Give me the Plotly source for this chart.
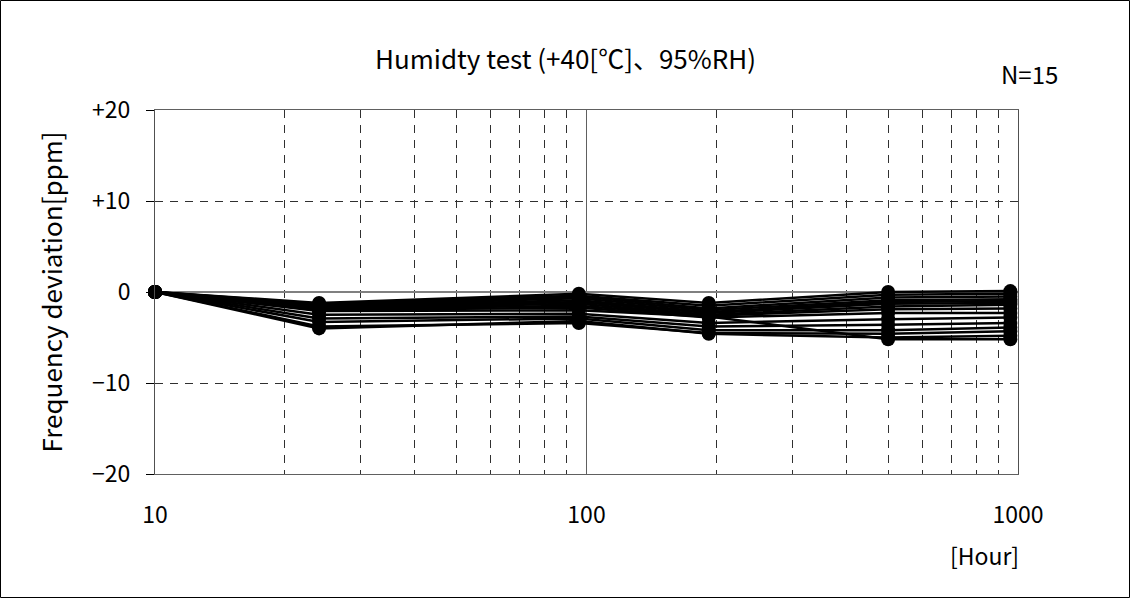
import plotly.graph_objects as go

hours = [10, 24, 96, 192, 500, 960]
series = [
    [0, -1.2, -0.2, -1.2, 0.0, 0.1],
    [0, -1.3, -0.4, -1.5, -0.3, -0.2],
    [0, -1.4, -0.5, -1.8, -0.6, -0.5],
    [0, -1.5, -0.7, -2.0, -0.9, -0.8],
    [0, -1.6, -0.9, -2.2, -1.1, -1.0],
    [0, -1.7, -1.1, -2.3, -1.3, -1.2],
    [0, -1.8, -1.3, -2.5, -1.6, -1.4],
    [0, -1.9, -1.5, -2.6, -1.9, -1.8],
    [0, -2.0, -1.7, -2.8, -2.3, -2.3],
    [0, -2.1, -2.0, -2.7, -5.2, -5.2],
    [0, -2.5, -2.4, -3.4, -3.0, -2.8],
    [0, -2.9, -2.7, -3.8, -3.6, -3.4],
    [0, -3.3, -2.9, -4.2, -4.2, -3.9],
    [0, -3.8, -3.4, -4.5, -4.6, -4.3],
    [0, -4.0, -3.2, -4.6, -5.0, -4.8],
]
y_ticks = [-20, -10, 0, 10, 20]
y_labels = ["\u221220", "\u221210", "0", "+10", "+20"]
x_ticks = [10, 100, 1000]
x_labels = ["10", "100", "1000"]

FONT = "Noto Sans CJK JP, Noto Sans, sans-serif"

fig = go.Figure()
for s in series:
    fig.add_trace(go.Scatter(
        x=hours, y=s, mode="lines+markers",
        line=dict(color="black", width=2.5),
        marker=dict(color="black", size=14),
        cliponaxis=False, showlegend=False, hoverinfo="skip",
    ))

W, H = 1130, 598
L, R, T, B = 155, 112, 110, 124
pw, ph = W - L - R, H - T - B

fig.update_layout(
    width=W, height=H,
    margin=dict(l=L, r=R, t=T, b=B, pad=0),
    paper_bgcolor="white", plot_bgcolor="white",
    font=dict(family=FONT, size=22, color="black"),
    showlegend=False,
    xaxis=dict(
        type="log", range=[1, 3],
        tickvals=x_ticks, ticktext=x_labels,
        ticks="", ticklabelstandoff=20,
        showgrid=True, gridcolor="#606060", gridwidth=1,
        minor=dict(dtick="D1", showgrid=True, gridcolor="#303030",
                   griddash="8px,7px", gridwidth=1, ticks=""),
        showline=True, linecolor="#606060", linewidth=1, mirror=True,
        zeroline=False, tickfont=dict(size=23),
    ),
    yaxis=dict(
        range=[-20, 20],
        tickvals=y_ticks, ticktext=y_labels,
        ticks="outside", ticklen=8, tickcolor="black",
        ticklabelstandoff=11,
        showgrid=True, gridcolor="#303030", griddash="8px,7px", gridwidth=1,
        zeroline=True, zerolinecolor="#808080", zerolinewidth=1.5,
        showline=True, linecolor="#505050", linewidth=1, mirror=True,
        title=dict(text="Frequency deviation[ppm]", standoff=22,
                   font=dict(size=26)),
        tickfont=dict(size=23),
    ),
    annotations=[
        dict(text="Humidty test (+40[\u2103]\u300195%RH)", xref="paper", yref="paper",
             x=(565 - L) / pw, y=1 + 53 / ph, xanchor="center", yanchor="middle",
             showarrow=False, font=dict(size=26)),
        dict(text="N=15", xref="paper", yref="paper",
             x=1 + 42 / pw, y=1 + 36 / ph, xanchor="right", yanchor="middle",
             showarrow=False, font=dict(size=24)),
        dict(text="[Hour]", xref="paper", yref="paper",
             x=1 + 3 / pw, y=-81 / ph, xanchor="right", yanchor="middle",
             showarrow=False, font=dict(size=23)),
    ],
    shapes=[
        dict(type="rect", xref="paper", yref="paper",
             x0=(-L + 0.5) / pw, x1=(pw + R - 0.5) / pw,
             y0=(-B + 0.5) / ph, y1=(ph + T - 0.5) / ph,
             line=dict(color="black", width=1), layer="below"),
    ],
)

fig.write_html("out.html")
